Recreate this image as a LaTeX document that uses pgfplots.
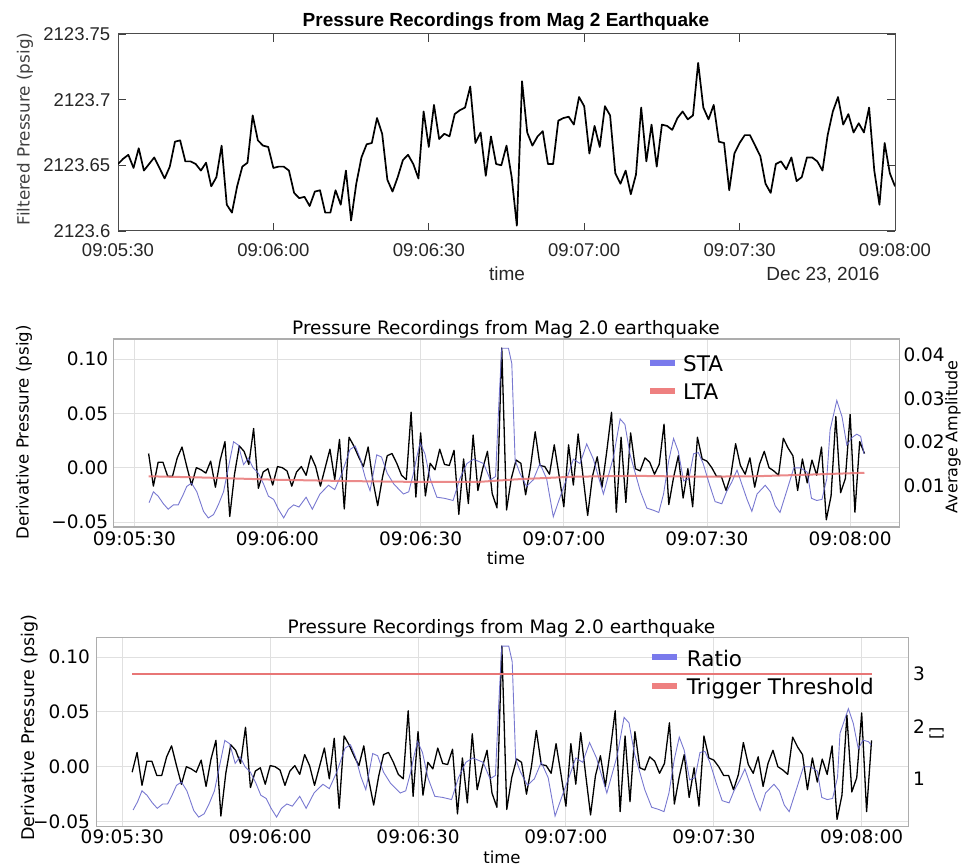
\documentclass[border=0pt]{standalone}
\usepackage{fontspec}
\setmainfont{DejaVu Sans}
\newfontfamily\mlab{Liberation Sans}
\usepackage{pgfplots}
\usepackage{pgfplotstable}
\pgfplotsset{compat=1.18}
\newcommand{\fs}[1]{\fontsize{#1pt}{#1pt}\selectfont}

\definecolor{stablue}{RGB}{96,96,200}
\definecolor{legblue}{RGB}{122,122,236}
\definecolor{ltared}{RGB}{232,118,118}
\definecolor{legred}{RGB}{238,128,128}

% filtered pressure, psig above 2123.6 psig; t = seconds after 09:05:30
\pgfplotstableread{
t p
0 0.051
1 0.055
2 0.058
3 0.048
4 0.063
5 0.046
6 0.051
7 0.056
8 0.048
9 0.040
10 0.049
11 0.068
12 0.069
13 0.053
14 0.053
15 0.051
16 0.046
17 0.052
18 0.034
19 0.041
20 0.065
21 0.020
22 0.014
23 0.034
24 0.049
25 0.052
26 0.088
27 0.069
28 0.065
29 0.064
30 0.048
31 0.049
32 0.049
33 0.046
34 0.029
35 0.025
36 0.026
37 0.019
38 0.030
39 0.031
40 0.014
41 0.014
42 0.031
43 0.020
44 0.046
45 0.008
46 0.036
47 0.056
48 0.066
49 0.067
50 0.086
51 0.074
52 0.039
53 0.030
54 0.041
55 0.054
56 0.058
57 0.051
58 0.040
59 0.091
60 0.064
61 0.096
62 0.070
63 0.074
64 0.072
65 0.089
66 0.092
67 0.094
68 0.110
69 0.067
70 0.075
71 0.042
72 0.072
73 0.051
74 0.050
75 0.065
76 0.041
77 0.004
78 0.114
79 0.075
80 0.065
81 0.072
82 0.076
83 0.051
84 0.051
85 0.084
86 0.086
87 0.087
88 0.081
89 0.102
90 0.095
91 0.059
92 0.080
93 0.064
94 0.095
95 0.088
96 0.044
97 0.036
98 0.046
99 0.028
100 0.043
101 0.094
102 0.053
103 0.081
104 0.049
105 0.081
106 0.080
107 0.077
108 0.086
109 0.091
110 0.085
111 0.088
112 0.128
113 0.094
114 0.085
115 0.096
116 0.068
117 0.067
118 0.031
119 0.059
120 0.067
121 0.073
122 0.073
123 0.065
124 0.057
125 0.036
126 0.029
127 0.051
128 0.053
129 0.047
130 0.056
131 0.038
132 0.041
133 0.056
134 0.056
135 0.053
136 0.046
137 0.073
138 0.091
139 0.102
140 0.081
141 0.089
142 0.075
143 0.082
144 0.075
145 0.094
146 0.046
147 0.020
148 0.067
149 0.044
150 0.034
}\filtered

% derivative pressure (psig)
\pgfplotstableread{
t d
2 -0.005
3 0.013
4 -0.017
5 0.005
6 0.005
7 -0.008
8 -0.008
9 0.009
10 0.019
11 0.001
12 -0.016
13 0.000
14 -0.002
15 -0.005
16 0.006
17 -0.018
18 0.007
19 0.024
20 -0.045
21 -0.006
22 0.020
23 0.015
24 0.003
25 0.036
26 -0.019
27 -0.004
28 -0.001
29 -0.016
30 0.001
31 0.000
32 -0.003
33 -0.017
34 -0.004
35 0.001
36 -0.007
37 0.011
38 0.001
39 -0.017
40 0.000
41 0.017
42 -0.011
43 0.026
44 -0.038
45 0.028
46 0.020
47 0.010
48 0.001
49 0.019
50 -0.012
51 -0.035
52 -0.009
53 0.011
54 0.013
55 0.004
56 -0.007
57 -0.011
58 0.051
59 -0.027
60 0.032
61 -0.026
62 0.004
63 -0.002
64 0.017
65 0.003
66 0.002
67 0.016
68 -0.043
69 0.008
70 -0.033
71 0.030
72 -0.021
73 -0.001
74 0.015
75 -0.024
76 -0.037
77 0.110
78 -0.039
79 -0.010
80 0.007
81 0.004
82 -0.025
83 0.000
84 0.033
85 0.002
86 0.001
87 -0.006
88 0.021
89 -0.007
90 -0.036
91 0.021
92 -0.016
93 0.031
94 -0.007
95 -0.044
96 -0.008
97 0.010
98 -0.018
99 0.015
100 0.051
101 -0.041
102 0.028
103 -0.032
104 0.032
105 -0.001
106 -0.003
107 0.009
108 0.005
109 -0.006
110 0.003
111 0.040
112 -0.034
113 -0.009
114 0.011
115 -0.028
116 -0.001
117 -0.036
118 0.028
119 0.008
120 0.006
121 0.000
122 -0.008
123 -0.008
124 -0.021
125 -0.007
126 0.022
127 0.002
128 -0.006
129 0.009
130 -0.018
131 0.003
132 0.015
133 0.000
134 -0.003
135 -0.007
136 0.027
137 0.018
138 0.011
139 -0.021
140 0.008
141 -0.014
142 0.007
143 -0.007
144 0.019
145 -0.048
146 -0.026
147 0.047
148 -0.023
149 -0.010
150 0.049
151 -0.041
152 0.024
153 0.013
}\deriv

% short-term average amplitude
\pgfplotstableread{
t s
3.1 0.00616
4.0 0.00865
5.0 0.00765
6.1 0.00591
7.1 0.00467
8.2 0.00566
9.2 0.00566
10.1 0.00765
11.0 0.00989
12.0 0.01064
13.1 0.00865
14.5 0.00417
15.5 0.00268
16.6 0.00343
17.6 0.00566
18.7 0.00865
19.7 0.01412
20.8 0.02009
21.8 0.01934
22.9 0.01487
23.9 0.01636
24.9 0.01412
26.0 0.01288
27.1 0.01039
28.1 0.00765
29.2 0.00691
30.2 0.00467
31.3 0.00268
32.3 0.00467
33.4 0.00566
34.5 0.00517
36.0 0.00741
37.3 0.00467
38.9 0.00815
40.7 0.01014
42.0 0.00915
43.5 0.01288
45.2 0.01835
46.3 0.01909
47.3 0.01636
48.4 0.01188
49.4 0.00890
50.8 0.01710
51.8 0.01661
53.0 0.01288
54.4 0.01039
56.4 0.00815
57.5 0.00865
58.5 0.01288
59.2 0.01661
59.9 0.01984
60.9 0.01735
62.0 0.01163
63.4 0.00741
65.0 0.00716
66.8 0.00666
68.2 0.01163
69.7 0.01511
71.1 0.01611
73.2 0.01511
74.6 0.01138
75.7 0.01213
76.4 0.02904
77.0 0.04148
78.4 0.04148
79.1 0.03800
79.8 0.01586
80.8 0.01288
82.2 0.00989
83.6 0.01138
85.0 0.01511
86.4 0.01163
87.8 0.00293
89.2 0.00741
90.6 0.01163
92.0 0.01611
93.4 0.01511
94.8 0.01959
96.2 0.01611
98.3 0.00815
100.4 0.01661
101.8 0.02531
102.8 0.02407
103.9 0.01710
106.0 0.00890
107.4 0.00492
108.8 0.00442
109.9 0.00392
110.9 0.00815
112.0 0.01586
113.0 0.02083
114.0 0.01785
115.1 0.01114
116.2 0.01163
117.2 0.01735
118.2 0.01760
119.2 0.01511
120.5 0.01039
121.7 0.00641
123.1 0.00591
124.1 0.00865
125.2 0.01089
126.3 0.01362
127.3 0.01039
128.4 0.00691
129.4 0.00417
130.5 0.00815
132.2 0.01014
133.3 0.00865
134.3 0.00542
135.3 0.00392
136.8 0.00915
138.2 0.01412
139.6 0.01412
141.0 0.01313
141.9 0.00716
143.0 0.00666
144.1 0.00691
145.1 0.01163
145.8 0.02282
147.2 0.02954
148.3 0.02581
149.3 0.01934
150.4 0.02108
151.4 0.02183
152.2 0.02133
152.9 0.01735
}\sta

% long-term average amplitude
\pgfplotstableread{
t l
3 0.0122
15 0.0119
30 0.0114
45 0.0111
60 0.0109
72 0.0109
80 0.0115
92 0.0121
105 0.0123
118 0.0121
130 0.0122
142 0.0126
153 0.0130
}\lta

% STA/LTA ratio
\pgfplotstableread{
t r
2.2 0.410
3.1 0.566
4.0 0.775
5.0 0.691
6.1 0.545
7.1 0.441
8.2 0.524
9.2 0.524
10.1 0.691
11.0 0.879
12.0 0.942
13.1 0.775
14.5 0.399
15.5 0.274
16.6 0.336
17.6 0.524
18.7 0.775
19.7 1.234
20.8 1.735
21.8 1.672
22.9 1.297
23.9 1.422
24.9 1.234
26.0 1.130
27.1 0.921
28.1 0.691
29.2 0.628
30.2 0.441
31.3 0.274
32.3 0.441
33.4 0.524
34.5 0.482
36.0 0.670
37.3 0.441
38.9 0.733
40.7 0.900
42.0 0.816
43.5 1.130
45.2 1.589
46.3 1.652
47.3 1.422
48.4 1.046
49.4 0.796
50.8 1.485
51.8 1.443
53.0 1.130
54.4 0.921
56.4 0.733
57.5 0.775
58.5 1.130
59.2 1.443
59.9 1.714
60.9 1.505
62.0 1.025
63.4 0.670
65.0 0.649
66.8 0.608
68.2 1.025
69.7 1.318
71.1 1.401
73.2 1.318
74.6 1.004
75.7 1.067
76.4 2.487
77.0 3.531
78.4 3.531
79.1 3.238
79.8 1.380
80.8 1.130
82.2 0.879
83.6 1.004
85.0 1.318
86.4 1.025
87.8 0.294
89.2 0.670
90.6 1.025
92.0 1.401
93.4 1.318
94.8 1.693
96.2 1.401
98.3 0.733
100.4 1.443
101.8 2.174
102.8 2.069
103.9 1.485
106.0 0.796
107.4 0.461
108.8 0.420
109.9 0.378
110.9 0.733
112.0 1.380
113.0 1.798
114.0 1.547
115.1 0.983
116.2 1.025
117.2 1.505
118.2 1.526
119.2 1.318
120.5 0.921
121.7 0.587
123.1 0.545
124.1 0.775
125.2 0.963
126.3 1.192
127.3 0.921
128.4 0.628
129.4 0.399
130.5 0.733
132.2 0.900
133.3 0.775
134.3 0.503
135.3 0.378
136.8 0.816
138.2 1.234
139.6 1.234
141.0 1.150
141.9 0.649
143.0 0.608
144.1 0.628
145.1 1.030
145.6 1.870
147.3 2.340
148.3 2.060
149.3 1.580
150.3 1.740
151.4 1.710
151.9 1.650
}\ratio

\pgfplotsset{
  mpl/.style={
    scale only axis, anchor=south west,
    axis line style={draw=black!32, line width=1.3pt},
    grid=major, major grid style={draw=black!12, line width=0.9pt},
    major tick length=0pt, tick style={draw=none},
    xtick={0,30,60,90,120,150},
    xticklabels={09:05:30,09:06:00,09:06:30,09:07:00,09:07:30,09:08:00},
    ticklabel style={font=\fs{18.5}, inner sep=0pt},
  },
  mplright/.style={
    scale only axis, anchor=south west,
    axis x line=none, axis y line*=right,
    axis line style={draw=none},
    scaled y ticks=false,
    major tick length=0pt, tick style={draw=none},
    ticklabel style={font=\fs{18.5}, inner sep=0pt},
  },
}

\begin{document}
\begin{tikzpicture}
\useasboundingbox (0pt,0pt) rectangle (962pt,867pt);

% ---------- top: filtered pressure ----------
\begin{axis}[
  at={(118pt,636pt)}, anchor=south west, scale only axis,
  width=777pt, height=197pt,
  xmin=0, xmax=150, ymin=0, ymax=0.15,
  xtick={0,30,60,90,120,150},
  xticklabels={09:05:30,09:06:00,09:06:30,09:07:00,09:07:30,09:08:00},
  ytick={0,0.05,0.10,0.15},
  yticklabels={2123.6,2123.65,2123.7,2123.75},
  tick align=inside, major tick length=8pt,
  tick style={black!75, line width=0.9pt},
  axis line style={black!70, line width=1pt},
  ticklabel style={font=\mlab\fs{18.5}, text=black!85, inner sep=0pt},
  xticklabel style={anchor=north, yshift=-12.5pt},
  yticklabel style={anchor=east, xshift=-7.5pt},
]
\addplot[black, line width=1.7pt, line join=round] table[x=t, y=p]{\filtered};
\end{axis}
\node[font=\mlab\bfseries\fs{19}, anchor=base] at (506pt,840.6pt) {Pressure Recordings from Mag 2 Earthquake};
\node[font=\mlab\fs{19}, anchor=base, text=black!85] at (507pt,586pt) {time};
\node[font=\mlab\fs{19}, anchor=base, text=black!85] at (823pt,586pt) {Dec 23, 2016};
\node[font=\fs{16.8}, rotate=90, text=black!75] at (25pt,738pt) {Filtered Pressure (psig)};

% ---------- middle: derivative with STA / LTA ----------
\begin{axis}[mpl,
  at={(113.3pt,340pt)}, width=786pt, height=188pt,
  xmin=-4.4, xmax=160.3, ymin=-0.0546, ymax=0.1184,
  ytick={-0.05,0,0.05,0.1}, yticklabels={−0.05,0.00,0.05,0.10},
  xticklabel style={anchor=north, yshift=-4.7pt},
  yticklabel style={anchor=east, xshift=-5pt},
]
\addplot[black, line width=1.3pt, line join=round, restrict x to domain=2.5:154] table[x=t, y=d]{\deriv};
\end{axis}
\begin{axis}[mplright,
  at={(113.3pt,340pt)}, width=786pt, height=188pt,
  xmin=-4.4, xmax=160.3, ymin=0.0006, ymax=0.0436,
  ytick={0.01,0.02,0.03,0.04}, yticklabels={0.01,0.02,0.03,0.04},
  yticklabel style={anchor=west, xshift=4pt},
]
\addplot[stablue, opacity=0.85, line width=0.9pt] table[x=t, y=s]{\sta};
\addplot[ltared, opacity=0.85, line width=2pt] table[x=t, y=l]{\lta};
\end{axis}
\node[font=\fs{18.5}, anchor=base] at (506pt,532pt) {Pressure Recordings from Mag 2.0 earthquake};
\node[font=\fs{17}, anchor=base] at (506pt,302pt) {time};
\node[font=\fs{16.6}, rotate=90] at (24pt,434.5pt) {Derivative Pressure (psig)};
\node[font=\fs{16}, rotate=90] at (953pt,430.3pt) {Average Amplitude};
\fill[legblue] (650pt,501pt) rectangle (675pt,507pt);
\fill[legred] (650pt,473pt) rectangle (675pt,479pt);
\node[font=\fs{21.5}, anchor=base west, inner sep=0pt] at (683pt,495.3pt) {STA};
\node[font=\fs{21.5}, anchor=base west, inner sep=0pt] at (683pt,467pt) {LTA};

% ---------- bottom: derivative with STA/LTA ratio ----------
\begin{axis}[mpl,
  at={(96.7pt,40.3pt)}, width=811.6pt, height=189.4pt,
  xmin=-5.19, xmax=159.46, ymin=-0.0547, ymax=0.118,
  ytick={-0.05,0,0.05,0.1}, yticklabels={−0.05,0.00,0.05,0.10},
  xticklabel style={anchor=north, yshift=-3.3pt},
  yticklabel style={anchor=east, xshift=-6.7pt},
]
\addplot[black, line width=1.3pt, line join=round, restrict x to domain=1:152.5] table[x=t, y=d]{\deriv};
\end{axis}
\begin{axis}[mplright,
  at={(96.7pt,40.3pt)}, width=811.6pt, height=189.4pt,
  xmin=-5.19, xmax=159.46, ymin=0.091, ymax=3.70,
  ytick={1,2,3}, yticklabels={1,2,3},
  yticklabel style={anchor=west, xshift=4.7pt},
]
\addplot[stablue, opacity=0.85, line width=0.9pt] table[x=t, y=r]{\ratio};
\addplot[ltared, line width=1.3pt] coordinates {(2,3) (152,3)};
\end{axis}
\node[font=\fs{18.5}, anchor=base] at (501.5pt,233pt) {Pressure Recordings from Mag 2.0 earthquake};
\node[font=\fs{16.5}, anchor=base] at (502pt,3pt) {time};
\node[font=\fs{17.5}, rotate=90] at (29.5pt,139.3pt) {Derivative Pressure (psig)};
\node[font=\fs{16}, rotate=90] at (936.7pt,133.7pt) {[]};
\fill[legblue] (651.7pt,206.7pt) rectangle (676.7pt,212.7pt);
\fill[legred] (651.7pt,178pt) rectangle (676.7pt,184pt);
\node[font=\fs{21.5}, anchor=base west, inner sep=0pt] at (686.7pt,200.3pt) {Ratio};
\node[font=\fs{21.5}, anchor=base west, inner sep=0pt] at (686.7pt,172pt) {Trigger Threshold};
\end{tikzpicture}
\end{document}
